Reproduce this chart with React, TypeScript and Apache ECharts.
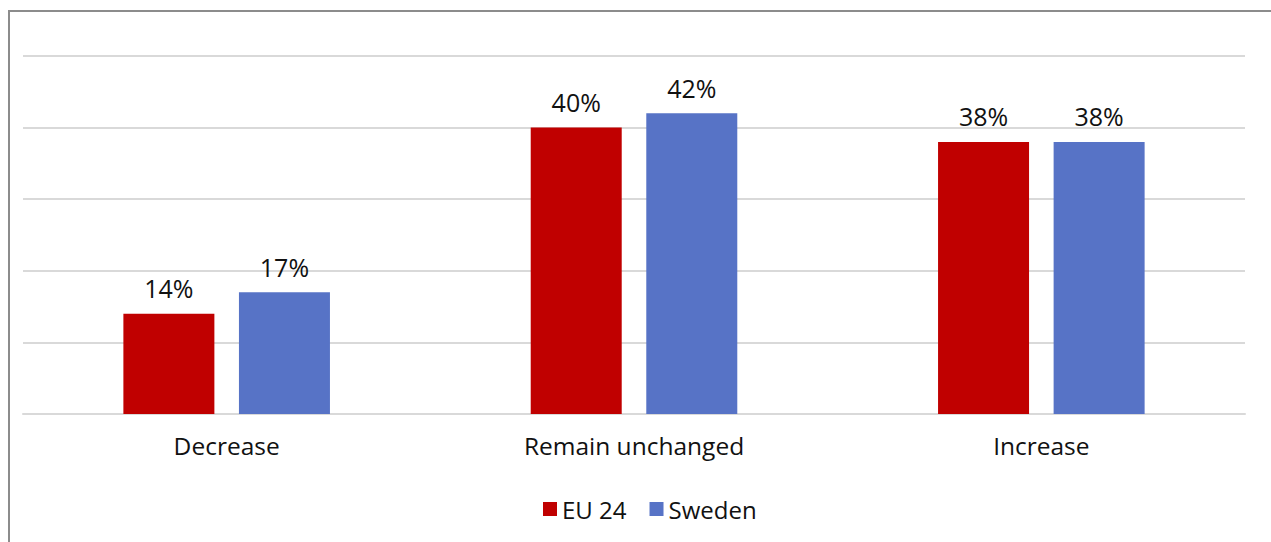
import React, { useEffect, useRef } from "react";
import * as echarts from "echarts";

const categories = ["Decrease", "Remain unchanged", "Increase"];
const seriesNames = ["EU 24", "Sweden"];
const eu24Values = [14, 40, 38];
const swedenValues = [17, 42, 38];
const colors = ["#C00000", "#5773C6"];

export default function App() {
  const ref = useRef<HTMLDivElement>(null);
  useEffect(() => {
    document.body.style.margin = "0";
    const chart = echarts.init(ref.current!, null, { renderer: "svg" });
    const font = "'Open Sans', 'Noto Sans', sans-serif";
    const label = {
      show: true,
      position: "top",
      distance: 13,
      formatter: "{c}%",
      fontSize: 25,
      color: "#111111",
      fontFamily: font,
    };
    chart.setOption({
      animation: false,
      backgroundColor: "#ffffff",
      graphic: [
        {
          type: "rect",
          shape: { x: 9, y: 11, width: 1300, height: 600 },
          style: { fill: "none", stroke: "#8c8c8c", lineWidth: 2 },
          silent: true,
        },
      ],
      grid: { left: 23, right: 26, top: 56, bottom: 128 },
      legend: {
        bottom: 16,
        left: 538,
        icon: "rect",
        itemWidth: 14,
        itemHeight: 14,
        itemGap: 23,
        textStyle: { fontSize: 24, color: "#111111", fontFamily: font },
        data: seriesNames,
      },
      xAxis: {
        type: "category",
        data: categories,
        axisTick: { show: false },
        axisLine: { lineStyle: { color: "#d9d9d9", width: 2 } },
        axisLabel: { fontSize: 24.5, color: "#111111", fontFamily: font, margin: 19 },
      },
      yAxis: {
        type: "value",
        min: 0,
        max: 50,
        interval: 10,
        axisLabel: { show: false },
        axisLine: { show: false },
        axisTick: { show: false },
        splitLine: { lineStyle: { color: "#d9d9d9", width: 2 } },
      },
      series: [
        {
          name: seriesNames[0],
          type: "bar",
          data: eu24Values,
          barWidth: 91,
          barGap: "27%",
          itemStyle: { color: colors[0] },
          label,
        },
        {
          name: seriesNames[1],
          type: "bar",
          data: swedenValues,
          barWidth: 91,
          barGap: "27%",
          itemStyle: { color: colors[1] },
          label,
        },
      ],
    });
    return () => chart.dispose();
  }, []);
  return (
    <div
      ref={ref}
      style={{ position: "absolute", left: 0, top: 0, width: 1271, height: 542 }}
    />
  );
}
